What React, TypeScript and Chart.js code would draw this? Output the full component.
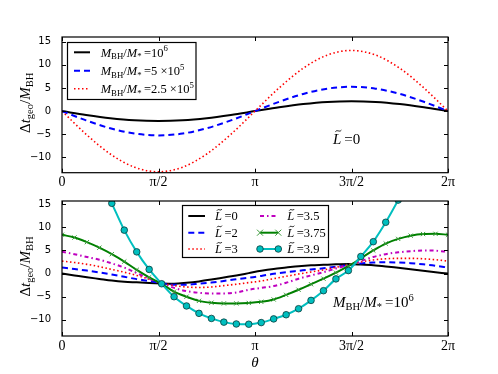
import React, { useEffect, useRef } from "react";
import { Chart, registerables } from "chart.js";

Chart.register(...registerables);

// ---------- data ----------
const THETA_TOP = [0, 0.3927, 0.7854, 1.1781, 1.5708, 1.9635, 2.3562, 2.7489, 3.1416, 3.5343, 3.927, 4.3197, 4.7124, 5.1051, 5.4978, 5.8905, 6.2832];
const TOP_M1E6 = [0, -0.82, -1.52, -1.99, -2.15, -1.99, -1.52, -0.82, 0, 0.82, 1.52, 1.99, 2.15, 1.99, 1.52, 0.82, 0];
const TOP_M5E5 = [0, -2.01, -3.71, -4.85, -5.25, -4.85, -3.71, -2.01, 0, 2.01, 3.71, 4.85, 5.25, 4.85, 3.71, 2.01, 0];
const TOP_M25E5 = [0, -5.01, -9.26, -12.1, -13.1, -12.1, -9.26, -5.01, 0, 5.01, 9.26, 12.1, 13.1, 12.1, 9.26, 5.01, 0];

const THETA = [0, 0.2027, 0.4054, 0.6081, 0.8107, 1.0134, 1.2161, 1.4188, 1.6215, 1.8242, 2.0268, 2.2295, 2.4322, 2.6349, 2.8376, 3.0403, 3.2429, 3.4456, 3.6483, 3.851, 4.0537, 4.2564, 4.459, 4.6617, 4.8644, 5.0671, 5.2698, 5.4725, 5.6751, 5.8778, 6.0805, 6.2832];
const L0 = [0, -0.4, -0.8, -1.15, -1.5, -1.75, -1.9, -2.05, -2.15, -2.2, -2.0, -1.7, -1.3, -0.85, -0.4, 0.1, 0.6, 1.0, 1.3, 1.6, 1.8, 1.9, 2.0, 2.05, 1.95, 1.8, 1.55, 1.25, 0.95, 0.6, 0.3, 0];
const L2 = [1.3, 1.0, 0.65, 0.25, -0.2, -0.7, -1.2, -1.6, -2.05, -2.4, -2.4, -2.2, -1.95, -1.6, -1.2, -0.9, -0.5, -0.05, 0.3, 0.6, 0.9, 1.15, 1.5, 1.85, 2.2, 2.4, 2.45, 2.4, 2.25, 2.0, 1.7, 1.3];
const L3 = [2.7, 2.4, 2.0, 1.5, 0.9, 0.3, -0.4, -1.2, -2.0, -2.6, -2.9, -3.0, -2.9, -2.6, -2.3, -1.95, -1.6, -1.1, -0.6, -0.1, 0.35, 0.8, 1.35, 1.9, 2.5, 2.95, 3.2, 3.3, 3.3, 3.2, 3.0, 2.7];
const L35 = [4.7, 4.2, 3.6, 3.0, 2.2, 1.3, 0.1, -1.1, -2.1, -3.1, -3.8, -4.15, -4.3, -4.3, -4.1, -3.5, -3.1, -2.7, -2.0, -1.1, -0.4, 0.3, 1.1, 1.8, 2.7, 3.6, 4.2, 4.6, 4.85, 5.0, 4.95, 4.7];
const L375 = [8.4, 7.8, 6.8, 5.6, 4.2, 2.6, 0.8, -0.8, -2.2, -3.9, -5.0, -5.9, -6.3, -6.45, -6.45, -6.35, -6.1, -5.6, -4.6, -3.5, -2.3, -1.1, 0.2, 1.6, 3.3, 5.0, 6.5, 7.5, 8.2, 8.55, 8.6, 8.4];
const L39 = [35, 31, 26, 21, 15.2, 9.4, 4.7, 0.9, -2.2, -5.0, -7.0, -8.6, -9.7, -10.5, -10.9, -10.95, -10.6, -9.8, -8.9, -7.6, -5.8, -3.7, -1.15, 0.65, 3.7, 6.9, 11.1, 15.9, 21, 26, 31, 35];

const X_TICKS = [0, Math.PI / 2, Math.PI, (3 * Math.PI) / 2, 2 * Math.PI];
const X_TICK_LABELS = ["0", "\u03c0/2", "\u03c0", "3\u03c0/2", "2\u03c0"];
const Y_TICKS = [-10, -5, 0, 5, 10, 15];

// ---------- styles ----------
const SERIF = '"Liberation Serif", "DejaVu Serif", serif';
const BLACK = "#000000";
const BLUE = "#0000ff";
const RED = "#ff0000";
const MAGENTA = "#bf00bf";
const GREEN = "#008000";
const CYAN = "#00bfbf";

type Run = { t: string; it?: boolean; sub?: boolean; sup?: boolean; tilde?: boolean };

function runFont(r: Run, size: number) {
  const s = r.sub || r.sup ? size * 0.7 : size;
  return `${r.it ? "italic " : ""}${s}px ${SERIF}`;
}
function measureRuns(ctx: CanvasRenderingContext2D, runs: Run[], size: number) {
  let w = 0;
  for (const r of runs) {
    ctx.font = runFont(r, size);
    w += ctx.measureText(r.t).width;
  }
  return w;
}
function drawRuns(ctx: CanvasRenderingContext2D, runs: Run[], x: number, y: number, size: number, align: "left" | "center") {
  ctx.save();
  ctx.textAlign = "left";
  ctx.textBaseline = "alphabetic";
  ctx.fillStyle = "#000";
  const w = measureRuns(ctx, runs, size);
  let cx = align === "center" ? x - w / 2 : x;
  for (const r of runs) {
    ctx.font = runFont(r, size);
    const dy = r.sub ? size * 0.22 : r.sup ? -size * 0.42 : 0;
    ctx.fillText(r.t, cx, y + dy);
    const rw = ctx.measureText(r.t).width;
    if (r.tilde) {
      const tw = size * 0.4;
      const tx = cx + rw / 2 - tw / 2 + size * 0.08;
      const ty = y - size * 0.84;
      ctx.beginPath();
      ctx.lineWidth = 0.9;
      ctx.strokeStyle = "#000";
      ctx.moveTo(tx, ty + 0.8);
      ctx.bezierCurveTo(tx + tw / 3, ty - 1.8, tx + (2 * tw) / 3, ty + 1.8, tx + tw, ty - 0.8);
      ctx.stroke();
    }
    cx += rw;
  }
  ctx.restore();
}

const Y_TITLE: Run[] = [{ t: "\u0394" }, { t: "t", it: true }, { t: "geo", sub: true }, { t: "/" }, { t: "M", it: true }, { t: "BH", sub: true }];
const massRuns = (num: Run[]): Run[] => [
  { t: "M", it: true },
  { t: "BH", sub: true },
  { t: "/" },
  { t: "M", it: true },
  { t: "*", sub: true },
  { t: "\u2009=" },
  ...num,
];
const lRuns = (v: string): Run[] => [{ t: "L", it: true, tilde: true }, { t: "\u2009=" + v }];

type LegendItem = { runs: Run[]; color: string; width: number; dash: number[]; marker?: "circle" | "x" };

const TOP_LEGEND: LegendItem[] = [
  { runs: massRuns([{ t: "10" }, { t: "6", sup: true }]), color: BLACK, width: 2, dash: [] },
  { runs: massRuns([{ t: "5 \u00d710" }, { t: "5", sup: true }]), color: BLUE, width: 2, dash: [6, 4] },
  { runs: massRuns([{ t: "2.5 \u00d710" }, { t: "5", sup: true }]), color: RED, width: 1.6, dash: [1.5, 2.5] },
];
const BOT_LEGEND: LegendItem[] = [
  { runs: lRuns("0"), color: BLACK, width: 2, dash: [] },
  { runs: lRuns("2"), color: BLUE, width: 2, dash: [6, 4] },
  { runs: lRuns("3"), color: RED, width: 1.6, dash: [1.5, 2.5] },
  { runs: lRuns("3.5"), color: MAGENTA, width: 2, dash: [4, 3, 1.5, 3] },
  { runs: lRuns("3.75"), color: GREEN, width: 2, dash: [], marker: "x" },
  { runs: lRuns("3.9"), color: CYAN, width: 2, dash: [], marker: "circle" },
];

function drawMarker(ctx: CanvasRenderingContext2D, kind: "circle" | "x", x: number, y: number) {
  ctx.save();
  ctx.setLineDash([]);
  if (kind === "circle") {
    ctx.beginPath();
    ctx.arc(x, y, 3.3, 0, Math.PI * 2);
    ctx.fillStyle = CYAN;
    ctx.fill();
    ctx.lineWidth = 0.8;
    ctx.strokeStyle = "#0a3a3a";
    ctx.stroke();
  } else {
    ctx.beginPath();
    ctx.lineWidth = 1;
    ctx.strokeStyle = "#3a9a3a";
    ctx.moveTo(x - 3, y - 3);
    ctx.lineTo(x + 3, y + 3);
    ctx.moveTo(x - 3, y + 3);
    ctx.lineTo(x + 3, y - 3);
    ctx.stroke();
  }
  ctx.restore();
}

function drawLegendRow(ctx: CanvasRenderingContext2D, it: LegendItem, x0: number, x1: number, tx: number, y: number) {
  ctx.save();
  ctx.beginPath();
  ctx.lineWidth = it.width;
  ctx.strokeStyle = it.color;
  ctx.setLineDash(it.dash);
  ctx.moveTo(x0, y);
  ctx.lineTo(x1, y);
  ctx.stroke();
  ctx.restore();
  if (it.marker) {
    drawMarker(ctx, it.marker, x0, y);
    drawMarker(ctx, it.marker, x1, y);
  }
  drawRuns(ctx, it.runs, tx, y + 4.3, 12.5, "left");
}

function drawFrame(chart: any) {
  const ctx: CanvasRenderingContext2D = chart.ctx;
  const a = chart.chartArea;
  const xs = chart.scales.x;
  const ys = chart.scales.y;
  ctx.save();
  ctx.strokeStyle = "#000";
  ctx.lineWidth = 1;
  ctx.setLineDash([]);
  ctx.beginPath();
  for (const v of X_TICKS) {
    const px = Math.round(xs.getPixelForValue(v)) + 0.5;
    ctx.moveTo(px, a.bottom);
    ctx.lineTo(px, a.bottom - 4);
    ctx.moveTo(px, a.top);
    ctx.lineTo(px, a.top + 4);
  }
  for (const v of Y_TICKS) {
    const py = Math.round(ys.getPixelForValue(v)) + 0.5;
    ctx.moveTo(a.left, py);
    ctx.lineTo(a.left + 4, py);
    ctx.moveTo(a.right, py);
    ctx.lineTo(a.right - 4, py);
  }
  ctx.stroke();
  ctx.lineWidth = 1.2;
  ctx.strokeRect(a.left, a.top, a.right - a.left, a.bottom - a.top);
  // x tick labels
  ctx.fillStyle = "#000";
  ctx.font = `14px ${SERIF}`;
  ctx.textAlign = "center";
  ctx.textBaseline = "middle";
  X_TICKS.forEach((v, i) => {
    ctx.fillText(X_TICK_LABELS[i], xs.getPixelForValue(v), a.bottom + 10);
  });
  // y title
  ctx.save();
  ctx.translate(25, (a.top + a.bottom) / 2 - 2);
  ctx.rotate(-Math.PI / 2);
  drawRuns(ctx, Y_TITLE, 0, 5, 15, "center");
  ctx.restore();
  ctx.restore();
}

function legendBox(ctx: CanvasRenderingContext2D, x: number, y: number, w: number, h: number) {
  ctx.save();
  ctx.fillStyle = "#fff";
  ctx.fillRect(x, y, w, h);
  ctx.lineWidth = 1.2;
  ctx.strokeStyle = "#000";
  ctx.strokeRect(x, y, w, h);
  ctx.restore();
}

const topDecor = {
  id: "topDecor",
  afterDraw(chart: any) {
    const ctx: CanvasRenderingContext2D = chart.ctx;
    drawFrame(chart);
    legendBox(ctx, 67.5, 42.5, 128.5, 57);
    const rows = [52.3, 70.7, 88.7];
    TOP_LEGEND.forEach((it, i) => drawLegendRow(ctx, it, 74, 90, 100.7, rows[i]));
    drawRuns(ctx, lRuns("0"), 333, 143.5, 15, "left");
  },
};

const botDecor = {
  id: "botDecor",
  afterDraw(chart: any) {
    const ctx: CanvasRenderingContext2D = chart.ctx;
    drawFrame(chart);
    const a = chart.chartArea;
    ctx.save();
    ctx.font = `italic 15px ${SERIF}`;
    ctx.fillStyle = "#000";
    ctx.textAlign = "center";
    ctx.textBaseline = "middle";
    ctx.fillText("\u03b8", (a.left + a.right) / 2, 173);
    ctx.restore();
    legendBox(ctx, 182.5, 15.5, 146, 52);
    const rows = [26, 42.7, 59];
    BOT_LEGEND.forEach((it, i) => {
      const col = Math.floor(i / 3);
      const row = i % 3;
      if (col === 0) drawLegendRow(ctx, it, 188.3, 205, 215, rows[row]);
      else drawLegendRow(ctx, it, 260, 278.3, 287.3, rows[row]);
    });
    drawRuns(ctx, massRuns([{ t: "10" }, { t: "6", sup: true }]), 333, 117, 15, "left");
  },
};

const pts = (xs: number[], ys: number[]) => xs.map((x, i) => ({ x, y: ys[i] }));
const fmt = (v: number) => (v < 0 ? "\u2212" + Math.abs(v) : String(v));

function baseOptions(yMin: number, yMax: number, padTop: number, padBottom: number): any {
  return {
    responsive: false,
    animation: false,
    events: [],
    layout: { padding: { left: 0, right: 50, top: padTop, bottom: padBottom } },
    plugins: { legend: { display: false }, tooltip: { enabled: false } },
    elements: {
      line: { cubicInterpolationMode: "monotone", fill: false },
      point: { radius: 0 },
    },
    scales: {
      x: { type: "linear", min: 0, max: 2 * Math.PI, display: false },
      y: {
        type: "linear",
        min: yMin,
        max: yMax,
        grid: { display: false },
        border: { display: false },
        afterBuildTicks: (ax: any) => {
          ax.ticks = Y_TICKS.map((v) => ({ value: v }));
        },
        afterFit: (ax: any) => {
          ax.width = 62;
        },
        ticks: {
          font: { family: "DejaVu Sans", size: 10 },
          color: "#000",
          padding: 3,
          callback: (v: any) => fmt(Number(v)),
        },
      },
    },
  };
}

function lineDs(data: any[], color: string, width: number, dash: number[], order: number, extra: any = {}) {
  return {
    data,
    borderColor: color,
    backgroundColor: color,
    borderWidth: width,
    borderDash: dash,
    pointRadius: 0,
    clip: 0,
    order,
    ...extra,
  };
}

export default function App() {
  const topRef = useRef<HTMLCanvasElement>(null);
  const botRef = useRef<HTMLCanvasElement>(null);

  useEffect(() => {
    const top = new Chart(topRef.current as HTMLCanvasElement, {
      type: "line",
      data: {
        datasets: [
          lineDs(pts(THETA_TOP, TOP_M1E6), BLACK, 2, [], 2),
          lineDs(pts(THETA_TOP, TOP_M5E5), BLUE, 2, [6, 4], 1),
          lineDs(pts(THETA_TOP, TOP_M25E5), RED, 1.6, [1.5, 2.5], 0),
        ],
      } as any,
      options: baseOptions(-13.3, 16, 37, 17.3),
      plugins: [topDecor],
    });
    const bot = new Chart(botRef.current as HTMLCanvasElement, {
      type: "line",
      data: {
        datasets: [
          lineDs(pts(THETA, L0), BLACK, 2, [], 5),
          lineDs(pts(THETA, L2), BLUE, 2, [6, 4], 4),
          lineDs(pts(THETA, L3), RED, 1.6, [1.5, 2.5], 3),
          lineDs(pts(THETA, L35), MAGENTA, 2, [4, 3, 1.5, 3], 2),
          lineDs(pts(THETA, L375), GREEN, 2, [], 1, {
            pointRadius: 3,
            pointStyle: "crossRot",
            pointBorderColor: "#3a9a3a",
            pointBorderWidth: 1,
          }),
          lineDs(pts(THETA, L39), CYAN, 2, [], 0, {
            pointRadius: 3.3,
            pointStyle: "circle",
            pointBackgroundColor: CYAN,
            pointBorderColor: "#0a3a3a",
            pointBorderWidth: 0.8,
          }),
        ],
      } as any,
      options: baseOptions(-13.5, 15.7, 11, 38),
      plugins: [botDecor],
    });
    return () => {
      top.destroy();
      bot.destroy();
    };
  }, []);

  return (
    <div style={{ position: "absolute", left: 0, top: 0, width: 498, height: 374, background: "#fff" }}>
      <canvas ref={topRef} width={498} height={190} style={{ position: "absolute", left: 0, top: 0, display: "block" }} />
      <canvas ref={botRef} width={498} height={184} style={{ position: "absolute", left: 0, top: 190, display: "block" }} />
    </div>
  );
}
